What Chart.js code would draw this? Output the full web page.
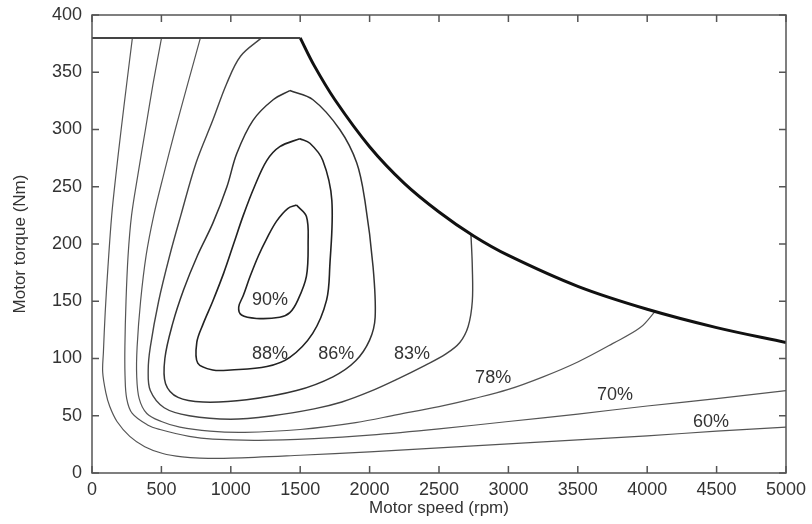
<!DOCTYPE html>
<html>
<head>
<meta charset="utf-8">
<script src="https://cdn.jsdelivr.net/npm/chart.js@4.4.1/dist/chart.umd.min.js"></script>
<style>
  body { margin: 0; background: #fff; }
  #wrap { width: 812px; height: 524px; }
</style>
</head>
<body>
<div id="wrap"><canvas id="effMap"></canvas></div>
<script>
// efficiency map data, [speed rpm, torque Nm]
const torqueLimit = [[0, 380], [1500, 380]];
const powerLimit = [[1500, 380], [1600, 356], [1750, 326], [2000, 285], [2250, 253], [2500, 228],
  [2750, 207], [3000, 190], [3500, 163], [4000, 143], [4500, 127], [5000, 114]];

const eff60 = [[291, 380], [250, 340], [210, 300], [172, 260], [142, 225], [115, 180], [95, 140],
  [82, 105], [77, 88], [100, 70], [128, 58], [180, 45], [272, 32], [380, 23], [510, 17], [650, 14],
  [777, 13], [1000, 13], [1500, 15.5], [2000, 18.5], [2500, 22], [3000, 25.5], [3500, 29],
  [4000, 32.5], [4500, 36.5], [5000, 40]];
const eff70 = [[501, 380], [440, 340], [385, 300], [330, 260], [285, 225], [260, 190], [245, 150],
  [237, 110], [238, 85], [250, 65], [290, 52], [400, 42], [490, 38], [700, 32], [870, 29.5],
  [1200, 28.5], [1600, 30], [2000, 33], [2500, 38.5], [3000, 45], [3500, 51.5], [4000, 58.5],
  [4500, 65], [5000, 72]];
const eff78 = [[781, 380], [690, 340], [600, 300], [515, 260], [445, 225], [390, 190], [350, 150],
  [325, 110], [322, 85], [340, 65], [395, 52], [500, 45], [633, 40], [850, 36.5], [1100, 35.5],
  [1500, 38], [1900, 44], [2200, 51], [2500, 58], [2750, 65], [3000, 73], [3250, 84], [3500, 97],
  [3750, 113], [3950, 127], [4056, 141]];
const eff83 = [[1221, 380], [1070, 364], [970, 340], [870, 308], [750, 271], [640, 225], [560, 190],
  [480, 150], [420, 110], [405, 90], [420, 72], [520, 57], [700, 50], [1000, 47], [1300, 50],
  [1600, 56], [1800, 62], [2000, 71], [2200, 82], [2400, 94], [2550, 104], [2650, 114], [2710, 128],
  [2740, 150], [2740, 180], [2730, 209]];
const eff86 = [[1425, 334], [1592, 326], [1785, 300], [1907, 271], [1966, 238], [2025, 180], [2040, 136],
  [2000, 116], [1900, 98], [1736, 84], [1474, 72], [1114, 64], [800, 62], [620, 66], [530, 78],
  [525, 100], [580, 130], [660, 160], [760, 190], [870, 218], [972, 250], [1043, 279], [1160, 308],
  [1305, 326], [1425, 334]];
const eff88 = [[1497, 292], [1570, 288], [1663, 273], [1728, 238], [1713, 180], [1690, 151], [1590, 122],
  [1425, 101], [1260, 93], [1000, 90], [870, 90], [762, 96], [755, 114], [800, 130], [870, 150],
  [950, 175], [1020, 200], [1090, 225], [1170, 250], [1260, 273], [1353, 285], [1497, 292]];
const eff90 = [[1473, 234], [1545, 224], [1557, 201], [1545, 172], [1483, 151], [1425, 140], [1353, 136],
  [1185, 135], [1077, 138], [1057, 145], [1090, 155], [1140, 172], [1200, 190], [1260, 205],
  [1330, 220], [1410, 231], [1473, 234]];

const labelText = ['90%', '88%', '86%', '83%', '78%', '70%', '60%'];
const labelSpeed = [1283, 1283, 1759, 2306, 2890, 3768, 4460];
const labelTorque = [151, 104, 104, 104, 83, 68, 44.5];

const toPoints = arr => arr.map(p => ({ x: p[0], y: p[1] }));

function contour(arr, width, color) {
  return {
    data: toPoints(arr),
    showLine: true,
    borderColor: color,
    borderWidth: width,
    pointRadius: 0,
    tension: 0.35,
    fill: false
  };
}

// box frame with inward ticks + contour labels
const framePlugin = {
  id: 'frame',
  afterDatasetsDraw(chart) {
    const { ctx, chartArea: a, scales: { x, y } } = chart;
    ctx.save();
    ctx.strokeStyle = '#555';
    ctx.lineWidth = 1.5;
    ctx.strokeRect(a.left, a.top, a.right - a.left, a.bottom - a.top);
    ctx.beginPath();
    x.ticks.forEach(t => {
      const px = x.getPixelForValue(t.value);
      ctx.moveTo(px, a.bottom); ctx.lineTo(px, a.bottom - 7);
      ctx.moveTo(px, a.top); ctx.lineTo(px, a.top + 7);
    });
    y.ticks.forEach(t => {
      const py = y.getPixelForValue(t.value);
      ctx.moveTo(a.left, py); ctx.lineTo(a.left + 7, py);
      ctx.moveTo(a.right, py); ctx.lineTo(a.right - 7, py);
    });
    ctx.stroke();
    ctx.font = '18px "Liberation Sans", Arial, sans-serif';
    ctx.fillStyle = '#333';
    ctx.textAlign = 'center';
    ctx.textBaseline = 'middle';
    labelText.forEach((txt, i) => {
      ctx.fillText(txt, x.getPixelForValue(labelSpeed[i]), y.getPixelForValue(labelTorque[i]));
    });
    ctx.restore();
  }
};

const ctx = document.getElementById('effMap').getContext('2d');
new Chart(ctx, {
  type: 'scatter',
  data: {
    datasets: [
      contour(torqueLimit, 2, '#444'),
      contour(powerLimit, 3, '#111'),
      contour(eff60, 1.2, '#555'),
      contour(eff70, 1.2, '#555'),
      contour(eff78, 1.2, '#555'),
      contour(eff83, 1.4, '#444'),
      contour(eff86, 1.5, '#333'),
      contour(eff88, 1.6, '#222'),
      contour(eff90, 1.6, '#222')
    ]
  },
  options: {
    responsive: true,
    maintainAspectRatio: false,
    animation: false,
    layout: { padding: { top: 15, right: 26, bottom: 0, left: 0 } },
    plugins: {
      legend: { display: false },
      tooltip: { enabled: false }
    },
    scales: {
      x: {
        type: 'linear',
        min: 0,
        max: 5000,
        afterFit: s => { s.height = 51; s.paddingLeft = 0; s.paddingRight = 0; },
        grid: { display: false, drawTicks: false },
        border: { display: false },
        ticks: { stepSize: 500, padding: 6, color: '#333', maxRotation: 0,
          callback: v => String(v),
          font: { family: '"Liberation Sans", Arial, sans-serif', size: 18 } },
        title: { display: true, text: 'Motor speed (rpm)', color: '#333',
          font: { family: '"Liberation Sans", Arial, sans-serif', size: 17 },
          padding: { top: 0, bottom: 5 } }
      },
      y: {
        min: 0,
        max: 400,
        afterFit: s => { s.width = 92; s.paddingTop = 0; s.paddingBottom = 0; },
        grid: { display: false, drawTicks: false },
        border: { display: false },
        ticks: { stepSize: 50, padding: 10, color: '#333',
          callback: v => String(v),
          font: { family: '"Liberation Sans", Arial, sans-serif', size: 18 } },
        title: { display: true, text: 'Motor torque (Nm)', color: '#333',
          font: { family: '"Liberation Sans", Arial, sans-serif', size: 17 },
          padding: { top: 10, bottom: 0 } }
      }
    }
  },
  plugins: [framePlugin]
});
</script>
</body>
</html>
